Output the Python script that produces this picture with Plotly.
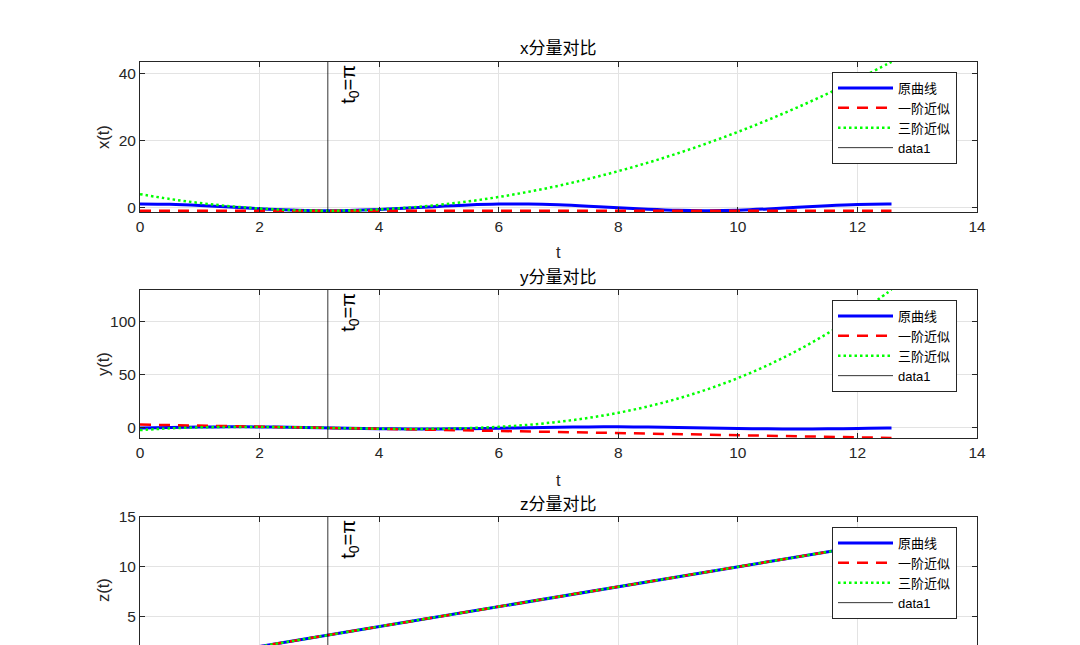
import plotly.graph_objects as go

# ---------------- data ----------------
t = [0, 0.5, 1.0, 1.5, 2.0, 2.5, 3.0, 3.5, 4.0, 4.5, 5.0, 5.5, 6.0, 6.5,
     7.0, 7.5, 8.0, 8.5, 9.0, 9.5, 10.0, 10.5, 11.0, 11.5, 12.0, 12.5, 12.57]

x_orig = [1.00, 0.88, 0.54, 0.07, -0.42, -0.80, -0.99, -0.94, -0.65, -0.21, 0.28,
          0.71, 0.96, 0.98, 0.75, 0.35, -0.15, -0.60, -0.91, -1.00, -0.84, -0.48,
          0.00, 0.48, 0.84, 1.00, 1.00]
x_third = [3.93, 2.49, 1.29, 0.35, -0.35, -0.79, -0.99, -0.94, -0.63, -0.08, 0.73,
           1.78, 3.09, 4.64, 6.44, 8.50, 10.80, 13.36, 16.16, 19.21, 22.52, 26.07,
           29.88, 33.93, 38.24, 42.79, 43.45]

y_orig = [0.00, 0.48, 0.84, 1.00, 0.91, 0.60, 0.14, -0.35, -0.76, -0.98, -0.96,
          -0.71, -0.28, 0.22, 0.66, 0.94, 0.99, 0.80, 0.41, -0.08, -0.54, -0.88,
          -1.00, -0.88, -0.54, -0.07, 0.00]
y_third = [-2.03, -0.43, 0.50, 0.90, 0.89, 0.60, 0.14, -0.35, -0.75, -0.94, -0.79,
           -0.17, 1.03, 2.95, 5.72, 9.44, 14.25, 20.28, 27.65, 36.49, 46.91, 59.05,
           73.02, 88.96, 107.0, 127.25, 130.26]

t_lin = [0, 12.57]
x_first = [-1.0, -1.0]
y_first = [3.14, -9.43]
z_orig = [0, 12.57]
z_first = [0, 12.57]
z_third = [0, 12.57]

t0 = 3.1416
titles = ["x分量对比", "y分量对比", "z分量对比"]
ylabels = ["x(t)", "y(t)", "z(t)"]
names = ["原曲线", "一阶近似", "三阶近似", "data1"]
yranges = [[-1.4, 43.4], [-9.5, 129.8], [2.15, 15]]
ytickvals = [[0, 20, 40], [0, 50, 100], [0, 5, 10, 15]]
xtickvals = [0, 2, 4, 6, 8, 10, 12, 14]

# ---------------- layout helpers ----------------
W, H = 1080, 645
ML, MR = 140, 103
PW = W - ML - MR


def px_x(px):
    return (px - ML) / PW


def px_y(py):
    return 1 - py / H


box_px = [(62, 212), (290, 438), (517, 645)]
legend_top_px = [72, 300, 527]
title_px = [48, 277, 505]
tlabel_px = [252, 480, None]
ylabel_px = [137, 364, 590]

FONT = "Liberation Sans, Arial, Noto Sans CJK SC, sans-serif"
AX = "#262626"
GRID = "#E3E3E3"
BLUE = "#0000FF"
RED = "#FF0000"
GREEN = "#00FF00"

fig = go.Figure()

series = [(x_orig, x_first, x_third), (y_orig, y_first, y_third), (z_orig, z_first, z_third)]

for i in range(3):
    xa = "x" if i == 0 else f"x{i+1}"
    ya = "y" if i == 0 else f"y{i+1}"
    lg = "legend" if i == 0 else f"legend{i+1}"
    orig, first, third = series[i]
    t_orig = t if i < 2 else t_lin
    t_third = t if i < 2 else t_lin
    fig.add_trace(go.Scatter(x=t_orig, y=orig, mode="lines", name=names[0],
                             line=dict(color=BLUE, width=3, shape="spline"),
                             xaxis=xa, yaxis=ya, legend=lg))
    fig.add_trace(go.Scatter(x=t_lin, y=first, mode="lines", name=names[1],
                             line=dict(color=RED, width=2.5, dash="11px,8px"),
                             xaxis=xa, yaxis=ya, legend=lg))
    fig.add_trace(go.Scatter(x=t_third, y=third, mode="lines", name=names[2],
                             line=dict(color=GREEN, width=2.5, dash="2.5px,3px", shape="spline"),
                             xaxis=xa, yaxis=ya, legend=lg))
    fig.add_trace(go.Scatter(x=[t0, t0], y=yranges[i], mode="lines", name=names[3],
                             line=dict(color="#000000", width=0.8),
                             xaxis=xa, yaxis=ya, legend=lg))

    top, bot = box_px[i]
    dom = [px_y(bot), px_y(top)]
    xkey = "xaxis" if i == 0 else f"xaxis{i+1}"
    ykey = "yaxis" if i == 0 else f"yaxis{i+1}"
    xax = dict(domain=[0, 1], range=[0, 14], tickvals=xtickvals, anchor=ya,
               showgrid=True, gridcolor=GRID, gridwidth=1, zeroline=False,
               showline=True, linecolor=AX, linewidth=1, mirror="ticks",
               ticks="inside", ticklen=5, tickcolor=AX, automargin=False,
               tickfont=dict(family=FONT, size=15.5, color=AX))
    if i == 2:
        xax.update(side="top", mirror=False, showticklabels=False)
    yax = dict(domain=dom, range=yranges[i], tickvals=ytickvals[i], anchor=xa,
               showgrid=True, gridcolor=GRID, gridwidth=1, zeroline=False,
               showline=True, linecolor=AX, linewidth=1, mirror="ticks",
               ticks="inside", ticklen=5, tickcolor=AX, automargin=False,
               tickfont=dict(family=FONT, size=15.5, color=AX))
    fig.layout[xkey] = xax
    fig.layout[ykey] = yax

    fig.layout[lg] = dict(x=px_x(832), y=px_y(legend_top_px[i]), xanchor="left", yanchor="top",
                          xref="paper", yref="paper",
                          bgcolor="white", bordercolor=AX, borderwidth=1,
                          font=dict(family=FONT, size=13, color="#000000"),
                          itemwidth=55, tracegroupgap=0)

    fig.add_annotation(x=px_x(558.5), y=px_y(title_px[i]), xref="paper", yref="paper",
                       text=titles[i], showarrow=False, xanchor="center", yanchor="middle",
                       font=dict(family=FONT, size=17, color="#000000"))
    if tlabel_px[i] is not None:
        fig.add_annotation(x=px_x(558.5), y=px_y(tlabel_px[i]), xref="paper", yref="paper",
                           text="t", showarrow=False, xanchor="center", yanchor="middle",
                           font=dict(family=FONT, size=16.5, color=AX))
    fig.add_annotation(x=px_x(103), y=px_y(ylabel_px[i]), xref="paper", yref="paper",
                       text=ylabels[i], showarrow=False, textangle=-90,
                       xanchor="center", yanchor="middle",
                       font=dict(family=FONT, size=16.5, color=AX))
    fig.add_annotation(x=t0, xref=xa, y=1, yref=f"{ya} domain",
                       text="t<sub>0</sub>=π", showarrow=False, textangle=-90,
                       xanchor="left", yanchor="top", xshift=7, yshift=-1,
                       font=dict(family=FONT, size=20, color="#000000"))

fig.update_layout(width=W, height=H,
                  margin=dict(l=ML, r=MR, t=0, b=0, pad=0, autoexpand=False),
                  paper_bgcolor="white", plot_bgcolor="white", showlegend=True)

fig.write_html("out.html", config={"displayModeBar": False},
               post_script="document.body.style.margin='0';")
